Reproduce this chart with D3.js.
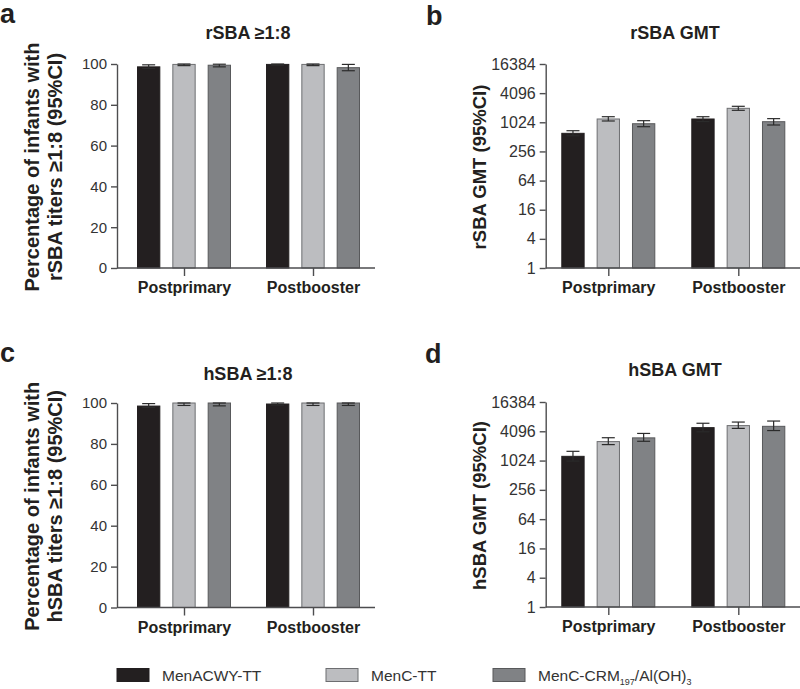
<!DOCTYPE html>
<html><head><meta charset="utf-8">
<script src="https://cdn.jsdelivr.net/npm/d3@7"></script>
<style>
body{margin:0;background:#fff}
text{font-family:"Liberation Sans",Arial,Helvetica,sans-serif}
</style>
</head><body>
<svg id="chart" width="800" height="689"></svg>
<script>
// ---------------- data ----------------
const groups = ["Postprimary", "Postbooster"];
const series = ["MenACWY-TT", "MenC-TT", "MenC-CRM197/Al(OH)3"];

const pctTicks = [0, 20, 40, 60, 80, 100];
const gmtTicks = [1, 4, 16, 64, 256, 1024, 4096, 16384];

// panel a: rSBA >= 1:8 (%), rows = groups, cols = series
const rsbaPctValues = [[98.6, 99.8, 99.4], [99.8, 99.8, 98.2]];
const rsbaPctLow    = [[97.8, 99.2, 98.6], [99.4, 99.2, 96.7]];
const rsbaPctHigh   = [[99.6, 100, 99.9], [100, 100, 99.8]];

// panel b: rSBA GMT
const rsbaGmtValues = [[606, 1198, 956], [1198, 1990, 1053]];
const rsbaGmtLow    = [[540, 1089, 830], [1060, 1810, 900]];
const rsbaGmtHigh   = [[686, 1335, 1105], [1335, 2190, 1218]];

// panel c: hSBA >= 1:8 (%)
const hsbaPctValues = [[98.5, 100, 100], [99.5, 100, 100]];
const hsbaPctLow    = [[97.8, 98.8, 98.6], [99.0, 98.8, 98.8]];
const hsbaPctHigh   = [[99.7, 100, 100], [100, 100, 100]];

// panel d: hSBA GMT
const hsbaGmtValues = [[1252, 2515, 3000], [4870, 5360, 5180]];
const hsbaGmtLow    = [[1000, 2180, 2550], [4000, 4700, 4240]];
const hsbaGmtHigh   = [[1587, 3020, 3700], [5990, 6340, 6650]];

const fills   = ["#231f20", "#bcbdc0", "#808285"];
const strokes = ["#231f20", "#6d6e71", "#58595b"];

// ---------------- drawing ----------------
const svg = d3.select("#chart");
const inkDark = "#231f20";
const axisCol = "#4d4d4f";

function drawPanel(p) {
  const g = svg.append("g");
  const x = d3.scalePoint().domain(groups).range([p.axisX + p.g0, p.axisX + p.g1]);
  const xi = d3.scaleBand().domain(series).range([-47, 47]).paddingInner(0.34);
  const y = p.log
    ? d3.scaleLog().base(2).domain([1, 16384]).range([p.bottom, p.top])
    : d3.scaleLinear().domain([0, 100]).range([p.bottom, p.top]);

  // bars
  groups.forEach((grp, gi) => {
    series.forEach((s, si) => {
      const v = p.values[gi][si];
      g.append("rect")
        .attr("x", x(grp) + xi(s) + 0.5)
        .attr("y", y(v))
        .attr("width", xi.bandwidth() - 1)
        .attr("height", p.bottom - y(v))
        .attr("fill", fills[si])
        .attr("stroke", strokes[si])
        .attr("stroke-width", 1);
    });
  });
  // error bars
  groups.forEach((grp, gi) => {
    series.forEach((s, si) => {
      const cx = x(grp) + xi(s) + xi.bandwidth() / 2;
      const lo = y(p.low[gi][si]), hi = y(p.high[gi][si]);
      const eb = g.append("g").attr("stroke", "#2b2b2b").attr("stroke-width", 1.2).attr("fill", "none");
      eb.append("line").attr("x1", cx).attr("x2", cx).attr("y1", lo).attr("y2", hi);
      eb.append("line").attr("x1", cx - 6.5).attr("x2", cx + 6.5).attr("y1", hi).attr("y2", hi);
      eb.append("line").attr("x1", cx - 6.5).attr("x2", cx + 6.5).attr("y1", lo).attr("y2", lo);
    });
  });

  // y axis
  const yAxis = d3.axisLeft(y).tickValues(p.log ? gmtTicks : pctTicks)
    .tickFormat(d3.format("d")).tickSize(6).tickPadding(4).tickSizeOuter(0);
  const ya = g.append("g").attr("transform", `translate(${p.axisX},0)`).call(yAxis);
  ya.select(".domain").attr("stroke", axisCol).attr("stroke-width", 1.4);
  ya.selectAll(".tick line").attr("stroke", axisCol).attr("stroke-width", 1.4);
  ya.selectAll(".tick text").attr("fill", "#333").attr("font-size", p.log ? 16 : 15);

  // x axis
  const xAxis = d3.axisBottom(x).tickSize(8).tickPadding(6);
  const xa = g.append("g").attr("transform", `translate(0,${p.bottom})`).call(xAxis);
  xa.select(".domain").remove();
  xa.selectAll(".tick line").attr("stroke", axisCol).attr("stroke-width", 1.4);
  xa.selectAll(".tick text").attr("fill", inkDark).attr("font-size", 16).attr("font-weight", "bold");
  g.append("line").attr("x1", p.axisX).attr("x2", p.axisEnd)
    .attr("y1", p.bottom).attr("y2", p.bottom)
    .attr("stroke", axisCol).attr("stroke-width", 1.4);

  // title
  g.append("text").attr("x", p.titleX).attr("y", p.titleY)
    .attr("text-anchor", "middle").attr("font-weight", "bold").attr("font-size", 18)
    .attr("fill", inkDark).text(p.title);

  // panel letter
  g.append("text").attr("x", p.letterX).attr("y", p.letterY)
    .attr("font-weight", "bold").attr("font-size", 27).attr("fill", inkDark).text(p.letter);

  // y label
  const cy = (p.top + p.bottom) / 2 + 1;
  p.ylabel.forEach((line, i) => {
    g.append("text")
      .attr("transform", `translate(${p.ylabelX[i]},${cy}) rotate(-90)`)
      .attr("text-anchor", "middle").attr("font-weight", "bold")
      .attr("font-size", p.ylabelSize).attr("fill", inkDark).text(line);
  });
}

drawPanel({
  letter: "a", letterX: 0, letterY: 23,
  title: "rSBA \u22651:8", titleX: 248, titleY: 39,
  axisX: 117, axisEnd: 375, g0: 67, g1: 196, top: 64, bottom: 268, log: false,
  values: rsbaPctValues, low: rsbaPctLow, high: rsbaPctHigh,
  ylabel: ["Percentage of infants with", "rSBA titers \u22651:8 (95%CI)"],
  ylabelX: [39, 61.5], ylabelSize: 20
});
drawPanel({
  letter: "b", letterX: 426, letterY: 25,
  title: "rSBA GMT", titleX: 675, titleY: 39,
  axisX: 545.7, axisEnd: 801, g0: 62.6, g1: 192.6, top: 64, bottom: 268, log: true,
  values: rsbaGmtValues, low: rsbaGmtLow, high: rsbaGmtHigh,
  ylabel: ["rSBA GMT (95%CI)"], ylabelX: [486], ylabelSize: 18.5
});
drawPanel({
  letter: "c", letterX: 0, letterY: 362,
  title: "hSBA \u22651:8", titleX: 248, titleY: 380,
  axisX: 117, axisEnd: 375, g0: 67, g1: 196, top: 403, bottom: 607.5, log: false,
  values: hsbaPctValues, low: hsbaPctLow, high: hsbaPctHigh,
  ylabel: ["Percentage of infants with", "hSBA titers \u22651:8 (95%CI)"],
  ylabelX: [39, 61.5], ylabelSize: 20
});
drawPanel({
  letter: "d", letterX: 425, letterY: 363,
  title: "hSBA GMT", titleX: 675, titleY: 376,
  axisX: 545.7, axisEnd: 801, g0: 62.6, g1: 192.6, top: 402, bottom: 607, log: true,
  values: hsbaGmtValues, low: hsbaGmtLow, high: hsbaGmtHigh,
  ylabel: ["hSBA GMT (95%CI)"], ylabelX: [486], ylabelSize: 18.5
});

// ---------------- legend ----------------
const legendX = [117, 326, 493];
const leg = svg.append("g");
series.forEach((s, i) => {
  leg.append("rect").attr("x", legendX[i]).attr("y", 668.5).attr("width", 32).attr("height", 13)
    .attr("fill", fills[i]).attr("stroke", strokes[i]).attr("stroke-width", 1);
  const t = leg.append("text").attr("x", legendX[i] + 45).attr("y", 681)
    .attr("font-size", 15.5).attr("fill", "#333");
  if (i === 2) {
    t.append("tspan").text("MenC-CRM");
    t.append("tspan").attr("font-size", 9).attr("dy", 4).text("197");
    t.append("tspan").attr("dy", -4).text("/Al(OH)");
    t.append("tspan").attr("font-size", 9).attr("dy", 4).text("3");
  } else {
    t.text(s);
  }
});
</script>
</body></html>
